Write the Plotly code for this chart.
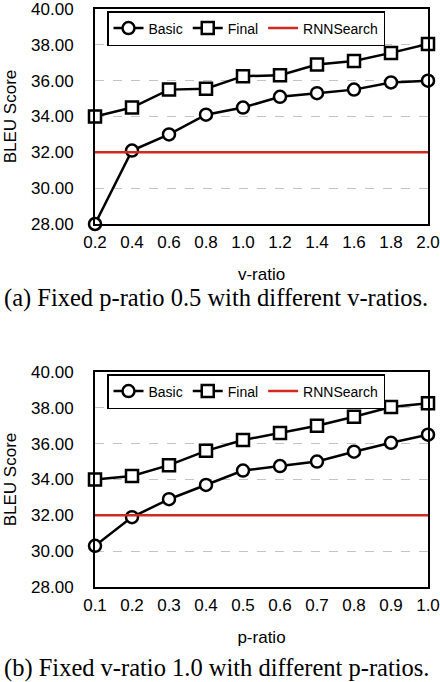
import plotly.graph_objects as go

v_ratio = [0.2, 0.4, 0.6, 0.8, 1.0, 1.2, 1.4, 1.6, 1.8, 2.0]
basic_v = [28.0, 32.1, 33.0, 34.1, 34.5, 35.1, 35.3, 35.5, 35.9, 36.0]
final_v = [34.0, 34.5, 35.5, 35.55, 36.25, 36.3, 36.9, 37.1, 37.55, 38.05]

p_ratio = [0.1, 0.2, 0.3, 0.4, 0.5, 0.6, 0.7, 0.8, 0.9, 1.0]
basic_p = [30.3, 31.9, 32.9, 33.7, 34.5, 34.75, 35.0, 35.55, 36.05, 36.5]
final_p = [34.0, 34.2, 34.8, 35.6, 36.2, 36.6, 37.0, 37.5, 38.05, 38.25]

rnnsearch = 32.0
y_ticks = [28, 30, 32, 34, 36, 38, 40]

captions = ["(a) Fixed p-ratio 0.5 with different v-ratios.",
            "(b) Fixed v-ratio 1.0 with different p-ratios."]

RED = "#d02a1e"
FONT = "Liberation Sans"

fig = go.Figure()

def add_panel(xs, basic, final, xa, ya, legend):
    fig.add_trace(go.Scatter(x=xs, y=basic, name="Basic", mode="lines+markers",
                             line=dict(color="black", width=2.5),
                             marker=dict(symbol="circle", size=12, color="white",
                                         line=dict(color="black", width=2.5)),
                             xaxis=xa, yaxis=ya, legend=legend, cliponaxis=False))
    fig.add_trace(go.Scatter(x=xs, y=final, name="Final", mode="lines+markers",
                             line=dict(color="black", width=2.5),
                             marker=dict(symbol="square", size=12, color="white",
                                         line=dict(color="black", width=2.5)),
                             xaxis=xa, yaxis=ya, legend=legend, cliponaxis=False))
    fig.add_trace(go.Scatter(x=[xs[0], xs[-1]], y=[rnnsearch, rnnsearch], name="RNNSearch",
                             mode="lines", line=dict(color=RED, width=2.5),
                             xaxis=xa, yaxis=ya, legend=legend))

add_panel(v_ratio, basic_v, final_v, "x", "y", "legend")
add_panel(p_ratio, basic_p, final_p, "x2", "y2", "legend2")

W, H = 440, 682
def py(p):
    return 1 - p / H

xdom = [95 / W, 428 / W]
axis_common = dict(showline=True, linecolor="black", linewidth=2, mirror=True,
                   ticks="", tickfont=dict(family=FONT, size=17, color="black"),
                   zeroline=False, automargin=False, ticklabeloverflow="allow")

def xaxis(dom_anchor, rng, vals, title):
    return dict(domain=xdom, anchor=dom_anchor, range=rng, tickvals=vals,
                tickformat=".1f", showgrid=False, ticklabelstandoff=2,
                title=dict(text=title, font=dict(size=17), standoff=17), **axis_common)

def yaxis(anchor, top, bottom):
    return dict(domain=[py(bottom), py(top)], anchor=anchor, range=[28, 40], tickvals=y_ticks,
                tickformat=".2f", showgrid=True, gridcolor="#c4c4c4", griddash="dash",
                gridwidth=1, ticklabelstandoff=16,
                title=dict(text="BLEU Score", font=dict(size=17), standoff=10), **axis_common)

leg_common = dict(orientation="h", x=107 / W, xanchor="left", yanchor="top",
                  bordercolor="black", borderwidth=1.5, bgcolor="white",
                  font=dict(family=FONT, size=14, color="black"), itemwidth=30,
                  tracegroupgap=0)

fig.update_layout(
    width=W, height=H, margin=dict(l=0, r=0, t=0, b=0),
    paper_bgcolor="white", plot_bgcolor="white",
    font=dict(family=FONT, color="black"),
    xaxis=xaxis("y", [0.2, 2.0], v_ratio, "v-ratio"),
    yaxis=yaxis("x", 9, 224),
    xaxis2=xaxis("y2", [0.1, 1.0], p_ratio, "p-ratio"),
    yaxis2=yaxis("x2", 372, 587),
    legend=dict(y=py(11), **leg_common),
    legend2=dict(y=py(374), **leg_common),
    showlegend=True,
)

for cap, yc in zip(captions, [298, 668]):
    fig.add_annotation(text=cap, x=2 / W, y=py(yc), xref="paper", yref="paper",
                       xanchor="left", yanchor="middle", showarrow=False,
                       font=dict(family="Liberation Serif", size=24.5, color="black"))

fig.write_html("out.html", config={"displayModeBar": False},
               post_script="document.body.style.margin='0';")
